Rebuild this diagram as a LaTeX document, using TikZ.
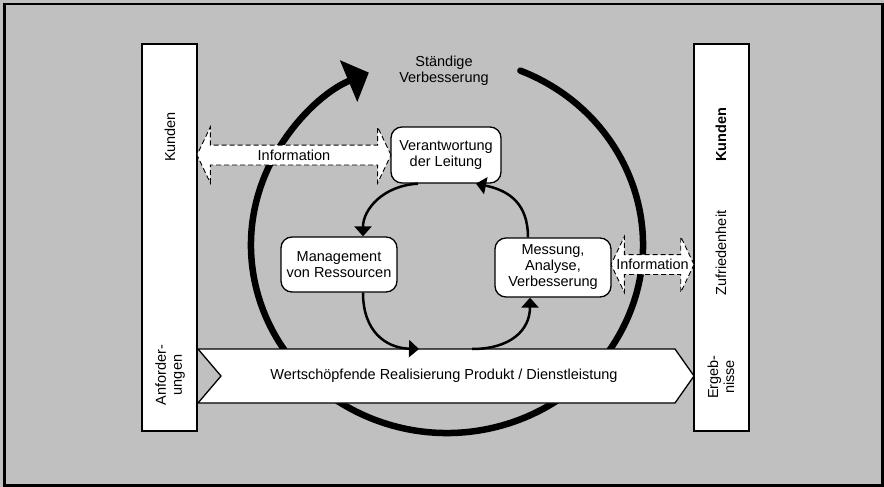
\documentclass[tikz,border=0pt]{standalone}
\usepackage{fontspec}
\setmainfont{Liberation Sans}
\usetikzlibrary{arrows.meta,shapes.arrows,calc}
\definecolor{panel}{HTML}{C0C0C0}
\begin{document}
\begin{tikzpicture}[x=1pt,y=-1pt,
  txt/.style={font=\fontsize{14.5}{16}\selectfont, align=center, inner sep=0pt},
  sidebox/.style={draw, fill=white, line width=1.2pt, minimum width=55pt, minimum height=387pt, inner sep=0pt},
  procbox/.style={draw, fill=white, line width=1.3pt, rounded corners=11pt, txt},
  cyclearrow/.style={line width=2.5pt, -{Triangle[length=10pt,width=17pt]}},
  bigloop/.style={line width=6.5pt, line cap=round, -{Triangle[length=22pt,width=44pt]}},
  infoarrow/.style={double arrow, draw, fill=white, line width=0.9pt, dash pattern=on 5pt off 3pt,
    double arrow tip angle=129, double arrow head extend=18pt, inner xsep=0pt, inner ysep=9.5pt},
]
\useasboundingbox (0,0) rectangle (884,487);
% panel and frame
\fill[panel] (0,0) rectangle (884,487);
\draw[line width=2.5pt] (4.5,4) rectangle (882.5,485.5);

% continual improvement loop
\coordinate (cyc) at (447,245);
\draw[bigloop] (cyc) ++(-68:196 and 188) arc[start angle=-68, end angle=246.5, x radius=196, y radius=188];
\node[txt] (kvb) at (444,71) {Ständige\\Verbesserung};

% customer columns
\node[sidebox] (lk) at (169.5,237.5) {};
\node[sidebox] (rk) at (721.5,237.5) {};
\node[txt, rotate=90] (lkA) at (170,137) {Kunden};
\node[txt, rotate=90] (lkB) at (170,375) {Anforder-\\ungen};
\node[txt, rotate=90, font=\fontsize{14.5}{16}\selectfont\bfseries] (rkA) at (721,135) {Kunden};
\node[txt, rotate=90] (rkB) at (721,253) {Zufriedenheit};
\node[txt, rotate=90] (rkC) at (721,377) {Ergeb-\\nisse};

% value chain band
\draw[fill=white, line width=1.3pt] (198,349) -- (675,349) -- (694,376) -- (675,403) -- (198,403) -- (221,376) -- cycle;
\node[txt] (wert) at (444,376) {Wertschöpfende Realisierung Produkt / Dienstleistung};
\coordinate (barin) at (419,349);
\coordinate (barout) at (472,349);

% process boxes
\node[procbox, minimum width=110pt, minimum height=56pt] (vdl) at (446,155) {Verantwortung\\der Leitung};
\node[procbox, minimum width=116pt, minimum height=55pt] (mvr) at (339,264.5) {Management\\von Ressourcen};
\node[procbox, minimum width=116pt, minimum height=59pt] (mav) at (553,267.5) {Messung,\\Analyse,\\Verbesserung};

% information exchange
\node[infoarrow, minimum height=194pt] (infL) at ($(lk.east |- vdl.west)!0.5!(vdl.west)$) {};
\node[txt] at (infL) {Information};
\node[infoarrow, minimum height=83pt] (infR) at ([yshift=3pt]$(mav.east)!0.5!(rk.west |- mav.east)$) {};
\node[txt] at (infR) {Information};

% inner process cycle
\draw[cyclearrow] ([xshift=-28pt]vdl.south) .. controls +(-35,2) and +(0,-27) .. ([xshift=24pt]mvr.north);
\draw[cyclearrow] ([xshift=24pt]mvr.south) .. controls +(0,38) and +(-34,-1) .. (barin);
\draw[cyclearrow] (barout) .. controls +(38,0) and +(0,33) .. ([xshift=-23pt]mav.south);
\draw[cyclearrow] ([xshift=-25pt]mav.north) .. controls +(0,-33) and +(34,7) .. ([xshift=30pt]vdl.south);
\end{tikzpicture}
\end{document}
